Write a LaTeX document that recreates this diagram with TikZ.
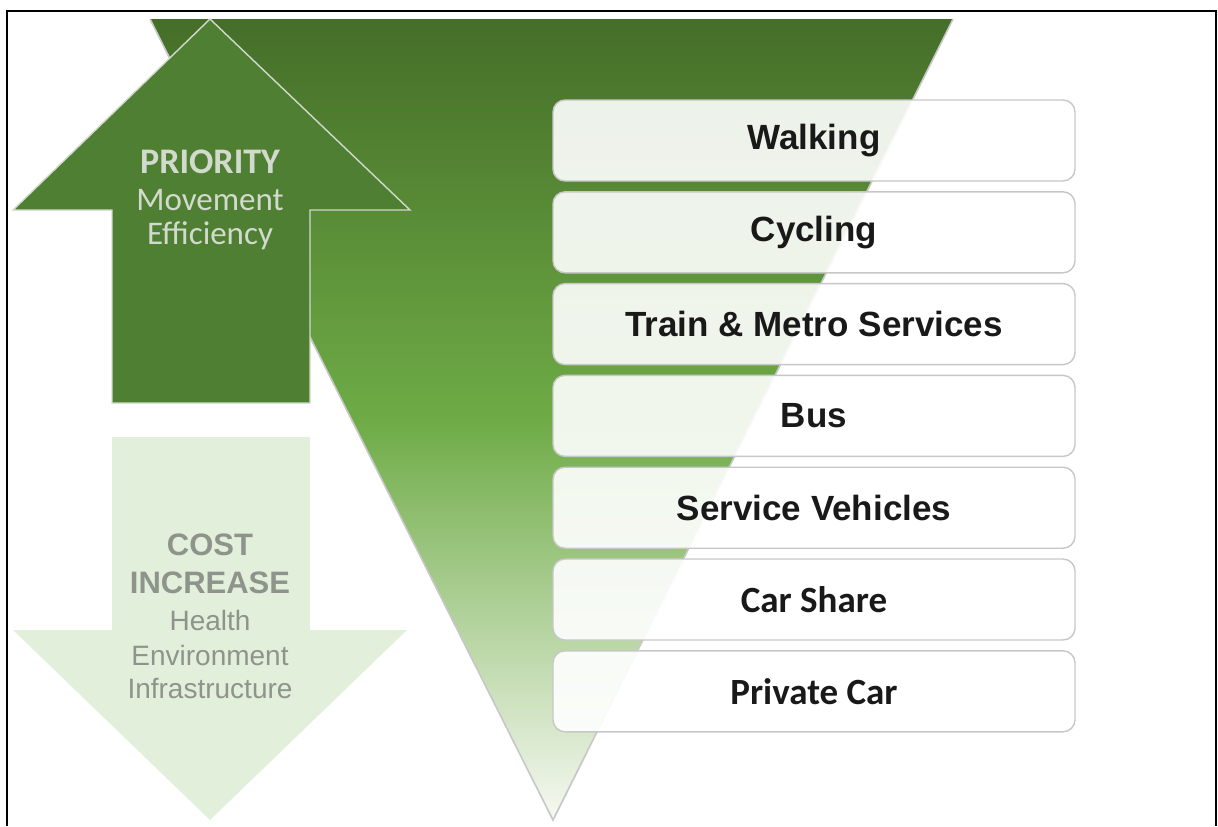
\documentclass[tikz,border=0pt]{standalone}
\usepackage{fontspec}
\setmainfont{Liberation Sans}
\newfontfamily\calib{Carlito}

\definecolor{darkleaf}{HTML}{456E28}
\definecolor{midleaf}{HTML}{6EAB46}
\definecolor{paleleaf}{HTML}{F6F9F2}
\definecolor{priogreen}{HTML}{4F7F32}
\definecolor{priotext}{HTML}{D2DACD}
\definecolor{costgreen}{HTML}{E2EFDA}
\definecolor{costtext}{HTML}{8E948C}

\newcommand\modefont{\bfseries\fontsize{17.5}{20}\selectfont}
\newcommand\carfont{\calib\bfseries\fontsize{18.5}{21}\selectfont}

\begin{document}
\begin{tikzpicture}[x=0.5pt,y=-0.5pt,
  mode/.style={draw=black!22,line width=0.7pt,fill=white,fill opacity=0.9,text opacity=1,
    rounded corners=6pt,minimum width=261pt,minimum height=40.5pt,inner sep=0pt,text=black!90},
  priolabel/.style={anchor=base,text=priotext,inner sep=0pt},
  costlabel/.style={anchor=base,text=costtext,inner sep=0pt}]
\useasboundingbox (0,0) rectangle (1218,826);


%draw the big inverted triangle with its fading green
\fill[top color=darkleaf,bottom color=paleleaf,middle color=midleaf] (150,19) -- (953,19) -- (553,820) -- cycle;
\draw[black!22,line width=0.8pt] (150,19) -- (553,820) -- (953,19);


%draw the two arrows on the left
\draw[fill=priogreen,draw=priotext,line width=0.7pt] (210,19) -- (410,210) -- (310,210) -- (310,403) -- (112,403) -- (112,210) -- (13,210) -- cycle;
\fill[costgreen] (112,437) -- (310,437) -- (310,630) -- (407,630) -- (210,820) -- (13,630) -- (112,630) -- cycle;

\node[priolabel,font=\calib\bfseries\fontsize{18}{20}\selectfont] (prio) at (210,173) {PRIORITY};
\node[priolabel,font=\calib\fontsize{16.5}{19}\selectfont] (move) at (210,210) {Movement};
\node[priolabel,font=\calib\fontsize{16.5}{19}\selectfont] (effic) at (210,244) {Efficiency};

\node[costlabel,font=\bfseries\fontsize{15.5}{18}\selectfont] (cost) at (210,555) {COST};
\node[costlabel,font=\bfseries\fontsize{15.5}{18}\selectfont] (incr) at (210,593) {INCREASE};
\node[costlabel,font=\fontsize{14}{16}\selectfont] (health) at (210,630) {Health};
\node[costlabel,font=\fontsize{14}{16}\selectfont] (envir) at (210,665) {Environment};
\node[costlabel,font=\fontsize{14}{16}\selectfont] (infra) at (210,698) {Infrastructure};


%draw the boxes of the transport modes
\foreach \nm/\txt/\fnt [count=\i from 0] in {walk/Walking/\modefont, bike/Cycling/\modefont,
    train/Train \& Metro Services/\modefont, bus/Bus/\modefont, service/Service Vehicles/\modefont,
    share/Car Share/\carfont, private/Private Car/\carfont}
  \node[mode,font=\fnt] (\nm) at (814,{140.5+91.8*\i}) {\txt};


\draw[line width=1pt] (7,826) -- (7,11) -- (1216,11) -- (1216,826);
\end{tikzpicture}
\end{document}
